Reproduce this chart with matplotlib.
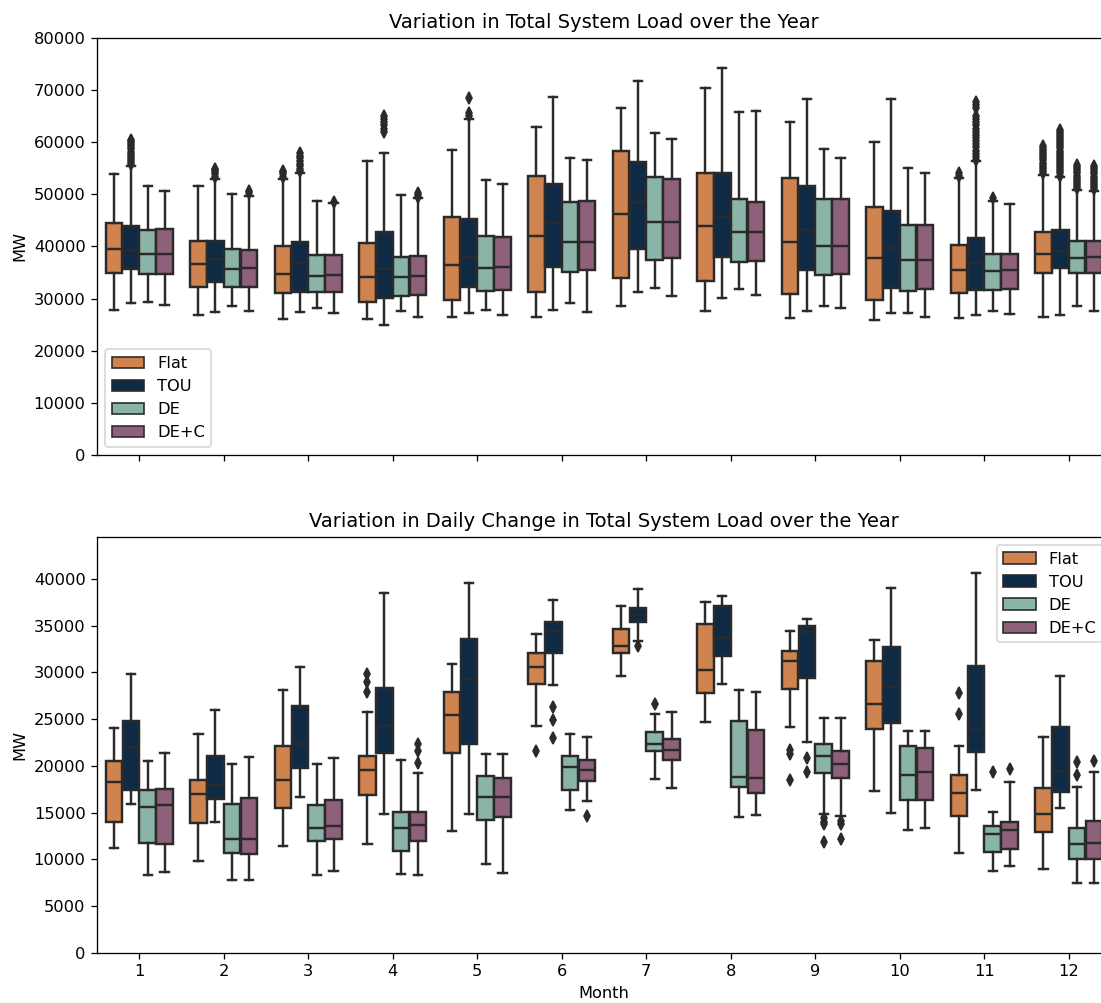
import numpy as np
import matplotlib
matplotlib.use("Agg")
import matplotlib.pyplot as plt
from matplotlib.patches import Patch

months = list(range(1, 13))
tariffs = ["Flat", "TOU", "DE", "DE+C"]
colors = ["#cf834f", "#0f2a44", "#8ab4a7", "#8f6079"]

# box stats in thousands of MW: [whisker low, q1, median, q3, whisker high] per month
load_flat = [[27.9, 34.9, 39.5, 44.4, 53.9], [26.8, 32.2, 36.6, 41.1, 51.6], [26.1, 31.0, 34.7, 40.0, 53.0],
             [26.1, 29.4, 34.1, 40.6, 56.4], [26.4, 29.7, 36.4, 45.7, 58.5], [26.4, 31.2, 42.0, 53.5, 63.0],
             [28.6, 34.0, 46.2, 58.4, 66.6], [27.7, 33.4, 43.9, 54.0, 70.3], [26.3, 30.8, 40.9, 53.2, 63.9],
             [25.9, 29.7, 37.7, 47.5, 60.0], [26.3, 31.0, 35.5, 40.3, 53.1], [26.5, 34.9, 38.6, 42.7, 53.7]]
load_tou = [[29.1, 35.6, 39.3, 43.9, 55.5], [27.4, 33.1, 37.5, 41.1, 53.0], [27.4, 31.3, 36.9, 40.9, 54.0],
            [25.0, 30.2, 35.6, 42.7, 58.0], [27.2, 32.3, 37.9, 45.3, 64.4], [27.9, 36.0, 44.4, 51.9, 68.6],
            [31.3, 39.5, 48.6, 56.2, 71.8], [30.2, 38.0, 45.7, 54.0, 74.2], [27.7, 35.5, 43.2, 51.5, 68.2],
            [27.2, 32.0, 39.7, 46.8, 68.2], [26.8, 31.7, 36.9, 41.7, 56.3], [26.8, 35.9, 39.2, 43.2, 53.3]]
load_de = [[29.3, 34.7, 38.5, 43.2, 51.5], [28.5, 32.2, 35.6, 39.5, 50.1], [28.2, 31.3, 34.3, 38.4, 48.7],
           [27.7, 30.4, 34.1, 37.9, 49.9], [27.9, 31.5, 35.9, 42.0, 52.8], [29.1, 35.1, 40.8, 48.5, 57.0],
           [32.0, 37.4, 44.7, 53.4, 61.8], [31.8, 37.1, 42.7, 49.1, 65.8], [28.6, 34.5, 40.0, 49.1, 58.7],
           [27.2, 31.5, 37.4, 44.1, 55.1], [27.6, 31.7, 35.2, 38.6, 48.8], [28.6, 35.0, 37.7, 41.1, 50.9]]
load_dec = [[28.8, 34.7, 38.5, 43.4, 50.7], [27.7, 32.2, 35.9, 39.3, 49.6], [27.2, 31.3, 34.5, 38.4, 48.3],
            [26.5, 30.6, 34.3, 38.2, 49.2], [26.8, 31.7, 36.1, 41.8, 52.0], [27.4, 35.5, 40.8, 48.7, 56.6],
            [30.4, 37.8, 44.6, 52.9, 60.6], [30.6, 37.3, 42.7, 48.6, 66.0], [28.1, 34.7, 40.0, 49.1, 56.9],
            [26.5, 31.8, 37.4, 44.1, 54.0], [27.0, 31.8, 35.4, 38.6, 48.2], [27.6, 35.0, 38.0, 41.1, 50.6]]

# outliers (thousands of MW), keyed by (tariff index, month index)
load_fliers = {
    (1, 0): [55.8, 56.2, 56.6, 57.0, 57.4, 57.8, 58.2, 58.6, 59.0, 59.4, 59.8, 60.2, 60.5],
    (1, 1): [53.4, 53.8, 54.2, 54.6, 54.9],
    (3, 1): [50.2, 50.6],
    (0, 2): [53.4, 53.8, 54.2, 54.5],
    (1, 2): [54.4, 54.9, 55.4, 55.9, 56.4, 56.9, 57.4, 57.9],
    (3, 2): [48.6],
    (1, 3): [62.0, 62.6, 63.2, 63.8, 64.4, 65.0],
    (3, 3): [49.5, 49.9, 50.3],
    (1, 4): [65.0, 65.6, 68.4],
    (0, 10): [53.6, 54.0],
    (1, 10): [56.6, 57.2, 57.8, 58.4, 59.0, 59.6, 60.2, 60.8, 61.4, 62.0, 62.6, 63.2, 63.8, 64.4, 65.0, 66.6, 67.2, 67.8],
    (2, 10): [49.2],
    (0, 11): [54.1, 54.5, 54.9, 55.3, 55.7, 56.1, 56.5, 56.9, 57.3, 57.7, 58.1, 58.5, 58.9, 59.3],
    (1, 11): [53.6, 54.0, 54.4, 54.8, 55.2, 55.6, 56.0, 56.4, 56.8, 57.2, 57.6, 58.0, 58.4, 58.8, 59.2, 59.6,
              60.0, 60.4, 60.8, 61.2, 61.6, 62.0, 62.4],
    (2, 11): [51.2, 51.6, 52.0, 52.4, 52.8, 53.2, 53.6, 54.0, 54.4, 54.8, 55.2, 55.6],
    (3, 11): [51.0, 51.4, 51.8, 52.2, 52.6, 53.0, 53.4, 53.8, 54.2, 54.6, 55.0, 55.4],
}

change_flat = [[11.2, 14.0, 18.3, 20.5, 24.1], [9.8, 13.9, 17.0, 18.5, 23.4], [11.4, 15.5, 18.5, 22.1, 28.1],
               [11.6, 16.9, 19.6, 21.1, 25.8], [13.0, 21.4, 25.5, 27.9, 30.9], [24.3, 28.8, 30.6, 32.1, 34.1],
               [29.6, 32.1, 32.8, 34.7, 37.1], [24.7, 27.8, 30.3, 35.2, 37.5], [24.2, 28.2, 31.2, 32.3, 34.4],
               [17.3, 24.0, 26.6, 31.2, 33.5], [10.7, 14.7, 17.1, 19.0, 22.1], [9.0, 12.9, 14.9, 17.6, 23.1]]
change_tou = [[15.9, 17.4, 22.0, 24.8, 29.8], [14.0, 16.5, 18.0, 21.1, 26.0], [16.7, 19.8, 22.3, 26.4, 30.6],
              [14.9, 21.4, 24.3, 28.3, 38.5], [14.9, 22.4, 29.3, 33.6, 39.6], [28.7, 32.1, 34.4, 35.4, 37.8],
              [33.4, 35.4, 36.1, 36.9, 38.9], [28.8, 31.8, 33.7, 37.1, 38.2], [22.6, 29.4, 34.3, 35.0, 35.7],
              [15.0, 24.6, 28.4, 32.7, 39.0], [17.4, 21.5, 23.9, 30.7, 40.6], [15.5, 17.2, 19.5, 24.2, 29.6]]
change_de = [[8.3, 11.8, 15.6, 17.4, 20.5], [7.8, 10.7, 12.2, 15.9, 20.2], [8.3, 12.0, 13.4, 15.8, 20.2],
             [8.4, 10.9, 13.4, 15.1, 20.6], [9.5, 14.2, 16.7, 18.9, 21.3], [15.3, 17.4, 19.9, 21.1, 23.4],
             [18.6, 21.6, 22.4, 23.6, 25.6], [14.5, 17.7, 18.8, 24.8, 28.1], [14.9, 19.2, 21.1, 22.4, 25.1],
             [13.2, 16.4, 19.0, 22.1, 23.7], [8.8, 10.8, 12.7, 13.6, 15.1], [7.5, 10.1, 11.7, 13.4, 17.8]]
change_dec = [[8.7, 11.7, 15.8, 17.5, 21.4], [7.8, 10.6, 12.2, 16.6, 21.0], [8.8, 12.2, 13.6, 16.4, 20.9],
              [8.3, 12.0, 13.7, 15.1, 19.3], [8.6, 14.5, 16.7, 18.7, 21.3], [16.2, 18.4, 19.6, 20.6, 23.1],
              [17.6, 20.6, 21.7, 22.9, 25.8], [14.8, 17.1, 18.7, 23.8, 27.9], [14.7, 18.7, 20.2, 21.6, 25.1],
              [13.4, 16.4, 19.4, 21.9, 23.7], [9.3, 11.1, 13.2, 14.0, 18.3], [7.5, 10.1, 11.8, 14.1, 19.4]]

change_fliers = {
    (0, 3): [27.9, 29.0, 29.8],
    (3, 3): [20.3, 21.6, 22.3],
    (0, 5): [21.6],
    (1, 5): [26.3, 24.9, 23.0],
    (3, 5): [14.7],
    (1, 6): [32.8],
    (2, 6): [26.6],
    (0, 8): [21.3, 21.7, 18.5],
    (1, 8): [20.8, 19.4],
    (2, 8): [14.4, 14.0, 13.8, 11.9],
    (3, 8): [14.1, 13.8, 12.2],
    (0, 10): [27.8, 25.6],
    (2, 10): [19.4],
    (3, 10): [19.7],
    (2, 11): [19.0, 20.4],
    (3, 11): [20.5],
}

line_c = "#2a2a2a"
offsets = [-0.3, -0.1, 0.1, 0.3]


def draw_boxes(ax, groups, fliers):
    for t, stats in enumerate(groups):
        bstats = []
        for m, (lo, q1, med, q3, hi) in enumerate(stats):
            fl = np.array(fliers.get((t, m), [])) * 1000
            bstats.append(dict(whislo=lo * 1000, q1=q1 * 1000, med=med * 1000,
                               q3=q3 * 1000, whishi=hi * 1000, fliers=fl))
        pos = np.arange(12) + offsets[t]
        ax.bxp(bstats, positions=pos, widths=0.196, patch_artist=True, showfliers=True,
               boxprops=dict(facecolor=colors[t], edgecolor=line_c, linewidth=1.5),
               medianprops=dict(color=line_c, linewidth=1.5),
               whiskerprops=dict(color=line_c, linewidth=1.5),
               capprops=dict(color=line_c, linewidth=1.5),
               flierprops=dict(marker="d", markerfacecolor=line_c, markeredgecolor=line_c,
                               markersize=5, linestyle="none"))
    ax.set_xlim(-0.5, 11.5)
    ax.set_xticks(range(12))
    ax.set_ylabel("MW")


# original was drawn larger and scaled down, so render at 117 dpi
dpi = 117
fig = plt.figure(figsize=(1101 / dpi, 1003 / dpi), dpi=dpi)
ax1 = fig.add_axes([0.0881, 0.5464, 0.921, 0.4158])
ax2 = fig.add_axes([0.0881, 0.0499, 0.921, 0.4148])

draw_boxes(ax1, [load_flat, load_tou, load_de, load_dec], load_fliers)
ax1.set_ylim(0, 80000)
ax1.set_xticklabels([])
ax1.set_title("Variation in Total System Load over the Year")

draw_boxes(ax2, [change_flat, change_tou, change_de, change_dec], change_fliers)
ax2.set_ylim(0, 44500)
ax2.set_xticklabels([str(m) for m in months])
ax2.set_xlabel("Month")
ax2.set_title("Variation in Daily Change in Total System Load over the Year")

handles = [Patch(facecolor=c, edgecolor=line_c, label=l) for c, l in zip(colors, tariffs)]
ax1.legend(handles=handles, loc="lower left")
ax2.legend(handles=handles, loc="upper right")

fig.savefig("out.png", dpi=dpi)
